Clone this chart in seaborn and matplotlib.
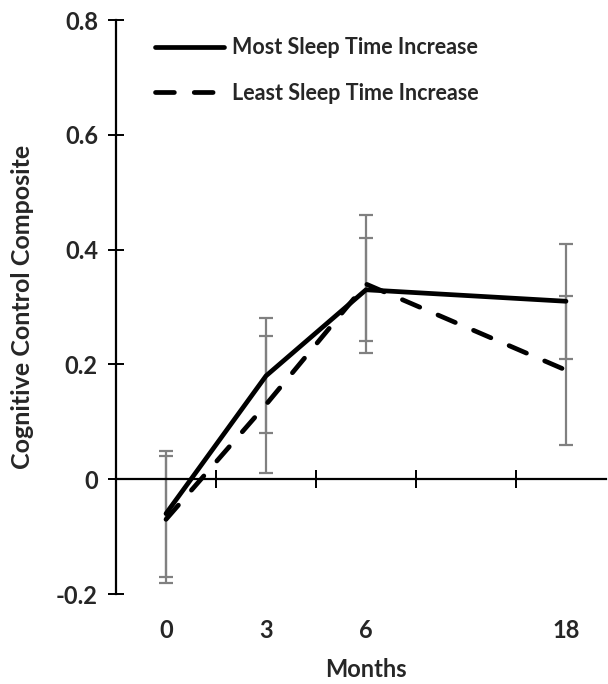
import matplotlib
matplotlib.use("Agg")
import matplotlib.pyplot as plt
import seaborn as sns
import pandas as pd
import numpy as np

months = ["0", "3", "6", "18"]
most_mean = [-0.06, 0.18, 0.33, 0.31]
most_err = [0.11, 0.10, 0.09, 0.10]
least_mean = [-0.07, 0.13, 0.34, 0.19]
least_err = [0.11, 0.12, 0.12, 0.13]
series_names = ["Most Sleep Time Increase", "Least Sleep Time Increase"]
yticks = [-0.2, 0, 0.2, 0.4, 0.6, 0.8]
ytick_labels = ["-0.2", "0", "0.2", "0.4", "0.6", "0.8"]

sns.set_theme(style="white")
plt.rcParams["font.family"] = ["Lato", "DejaVu Sans"]
plt.rcParams["font.weight"] = "bold"

# slot layout: month 18 sits one empty category slot after month 6
slots = [0, 1, 2, 4]

df = pd.DataFrame({
    "slot": slots * 2,
    "value": most_mean + least_mean,
    "err": most_err + least_err,
    "group": [series_names[0]] * 4 + [series_names[1]] * 4,
})

fig = plt.figure(figsize=(6.08, 6.84), dpi=100)
ax = fig.add_axes([116 / 608, 90 / 684, 490 / 608, 574 / 684])

# error bars (gray) behind lines
for name in series_names:
    sub = df[df["group"] == name]
    ax.errorbar(sub["slot"], sub["value"], yerr=sub["err"], fmt="none",
                ecolor="#808080", elinewidth=1.6, capsize=5, capthick=1.6, zorder=1)

sns.lineplot(data=df, x="slot", y="value", hue="group", style="group",
             hue_order=series_names, style_order=series_names,
             palette=["black", "black"],
             dashes={series_names[0]: "", series_names[1]: (4.0, 4.2)},
             linewidth=3.4, ax=ax, zorder=3, legend=True)
for ln in ax.get_lines():
    ln.set_dash_capstyle("round")
    ln.set_solid_capstyle("round")
    ln.set_solid_joinstyle("round")

ax.set_xlim(-0.5, 4.4)
ax.set_ylim(-0.2, 0.8)

for s in ["top", "right"]:
    ax.spines[s].set_visible(False)
ax.spines["bottom"].set_position(("data", 0))
for s in ["left", "bottom"]:
    ax.spines[s].set_color("black")
    ax.spines[s].set_linewidth(1.6)

ax.set_yticks(yticks)
ax.set_yticklabels(ytick_labels)
ax.tick_params(axis="y", which="major", direction="inout", length=12, width=1.4,
               color="black", labelsize=17, pad=7, left=True)

ax.set_xticks(slots)
ax.set_xticklabels(months)
ax.tick_params(axis="x", which="major", length=0, labelsize=17, pad=101)
ax.set_xticks([0.5, 1.5, 2.5, 3.5], minor=True)
ax.tick_params(axis="x", which="minor", direction="inout", length=13, width=1.4,
               color="black", bottom=True)
for lab in ax.get_xticklabels() + ax.get_yticklabels():
    lab.set_fontweight("bold")

ax.set_xlabel("Months", fontsize=17, fontweight="bold")
ax.xaxis.set_label_coords(0.51, -0.112)
ax.set_ylabel("Cognitive Control Composite", fontsize=18, fontweight="bold")
ax.yaxis.set_label_coords(-0.168, 0.5)

handles, labels = ax.get_legend_handles_labels()
leg = ax.legend(handles, labels, loc="upper left", bbox_to_anchor=(0.04, 1.004),
                frameon=False, handlelength=3.2, handletextpad=0.4,
                labelspacing=1.15, prop={"size": 15.5, "weight": "bold"})
for h in leg.get_lines():
    h.set_linewidth(3.4)
    h.set_dash_capstyle("round")

fig.savefig("out.png", dpi=100, facecolor="white")
